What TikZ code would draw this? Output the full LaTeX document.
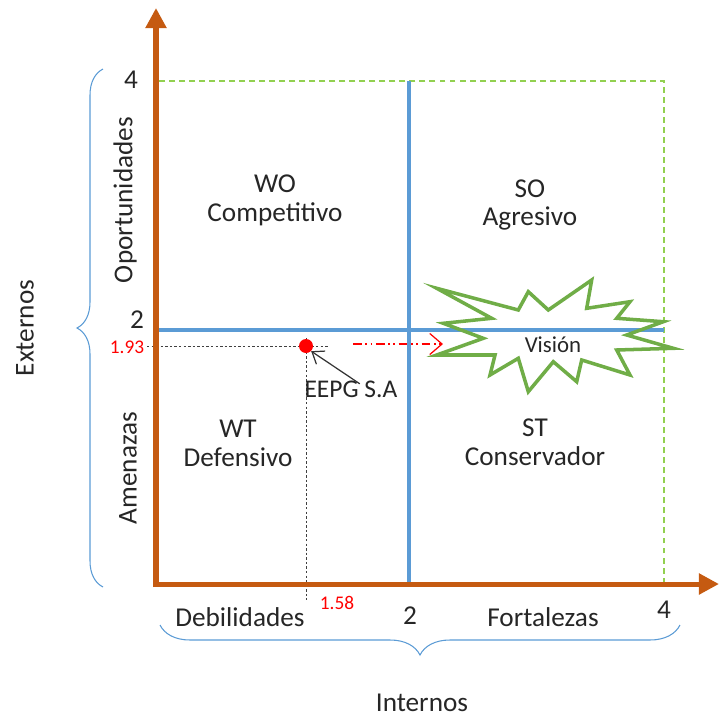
\documentclass[tikz,border=0pt]{standalone}
\usepackage{fontspec}
\setmainfont{Carlito}
\usetikzlibrary{arrows.meta,decorations.pathreplacing}
\definecolor{axisorange}{HTML}{C55A11}
\definecolor{quadblue}{HTML}{5B9BD5}
\definecolor{stargreen}{HTML}{70AD47}
\definecolor{dashgreen}{HTML}{92D050}
\definecolor{textgray}{HTML}{262626}
\begin{document}
\begin{tikzpicture}[
    x=0.02cm, y=-0.02cm,
    axis/.style={draw=axisorange, line width=2.85pt, -{Triangle[length=11.4pt,width=11.4pt]}},
    divider/.style={draw=quadblue, line width=2.3pt},
    frame/.style={draw=dashgreen, line width=0.6pt, dash pattern=on 3.4pt off 2.3pt},
    guide/.style={draw=black!75, line width=0.5pt, dash pattern=on 1.4pt off 1.2pt},
    bracket/.style={draw=quadblue, line width=0.6pt, decorate},
    label/.style={text=textgray, font=\fontsize{15.5}{16.5}\selectfont, align=center, inner sep=1pt},
    value/.style={text=red, font=\fontsize{11}{13}\selectfont, inner sep=1pt},
    every node/.style={inner sep=2pt}
]
\useasboundingbox (0,0) rectangle (720,717);

% Frame and quadrant dividers
\draw[frame] (156,81) rectangle (664,584);
\draw[divider] (409,81) -- (409,584);
\draw[divider] (156,330) -- (664,330);

% Position guides
\draw[guide] (147,346) -- (328,346);
\draw[guide] (306,338) -- (306,600);

% Vision star
\draw[draw=stargreen, line width=2pt, line join=miter]
    (436.7,288.3) -- (518.3,310) -- (528.3,291.7) -- (548.3,310) -- (591.7,280)
    -- (586.7,308.3) -- (630,301.7) -- (616.7,318.3) -- (663.3,321.7) -- (626.7,335)
    -- (673.3,348.3) -- (616.7,350) -- (630,375) -- (581.7,360) -- (576.7,381.7)
    -- (553.3,361.7) -- (528.3,391.7) -- (518.3,358.3) -- (490,375) -- (495,355)
    -- (436.7,355) -- (483.3,338.3) -- (443.3,323.3) -- (491.7,318.3) -- cycle;
\node[label, font=\fontsize{13}{15}\selectfont] (vision) at (553,345) {Visión};

% Axes
\draw[axis] (156,587) -- (156,8);
\draw[axis] (153,584) -- (719,584);

% Axis values
\node[label] (y4) at (131,80) {4};
\node[label] (y2) at (137,320) {2};
\node[value] (y193) at (127,347) {1.93};
\node[label] (x2) at (410,616) {2};
\node[label] (x4) at (664,610) {4};
\node[value] (x158) at (337,603) {1.58};

% Axis titles
\node[label, rotate=90] (oport) at (125,200) {Oportunidades};
\node[label, rotate=90] (amen) at (128,468) {Amenazas};
\node[label] (debil) at (240,617) {Debilidades};
\node[label] (fort) at (543,617) {Fortalezas};
\node[label, rotate=90] (ext) at (25,328) {Externos};
\node[label] (int) at (422,703) {Internos};

% Braces
\draw[bracket, decoration={brace, amplitude=0.52cm}] (103,587) -- (103,69);
\draw[bracket, decoration={brace, mirror, amplitude=0.6cm}] (160,625) -- (680,625);

% Quadrants
\node[label] (wo) at (275,200) {WO\\Competitivo};
\node[label] (so) at (530,205) {SO\\Agresivo};
\node[label] (wt) at (238,443) {WT\\Defensivo};
\node[label] (st) at (535,442) {ST\\Conservador};

% Company position
\node[circle, fill=red, inner sep=0pt, minimum size=0.28cm] (eepg) at (306,346) {};
\node[label, font=\fontsize{14.5}{16}\selectfont] (eepglabel) at (351,389) {EEPG S.A};
\draw[black!80, line width=0.7pt, -{Straight Barb[length=6pt,width=9pt]}]
    ([xshift=5pt,yshift=-3pt]eepglabel.north) -- (eepg.south east);

% Move toward vision
\coordinate (trendstart) at (353,344);
\coordinate (trendend) at (443,344);
\draw[red, line width=0.7pt, dash pattern=on 5pt off 2pt on 1pt off 2pt on 1pt off 2pt,
    -{Straight Barb[length=7pt,width=12pt]}] (trendstart) -- (trendend);

\end{tikzpicture}
\end{document}
